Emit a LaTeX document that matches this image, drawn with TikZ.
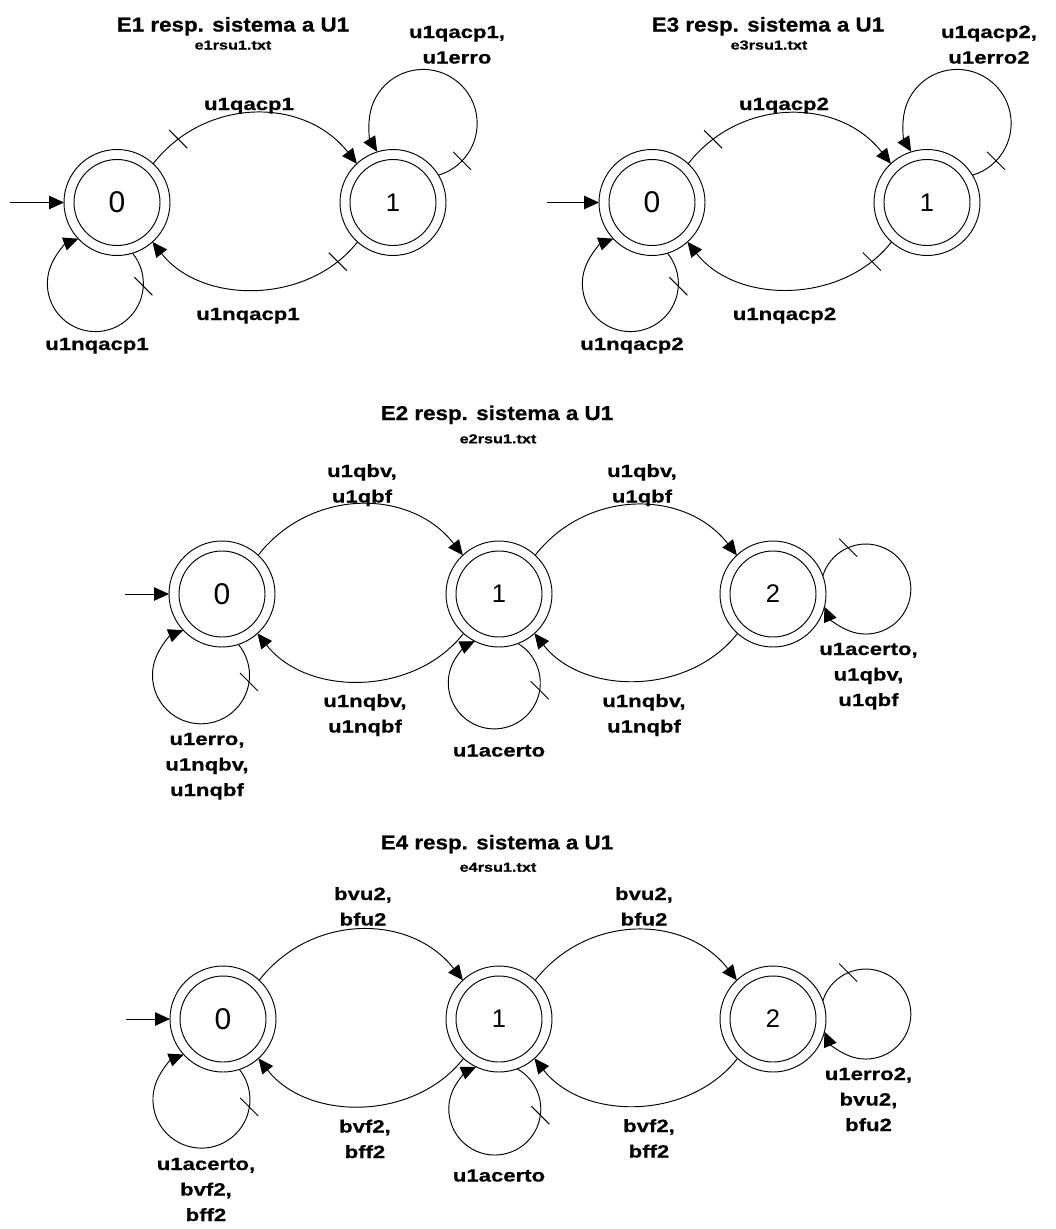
\documentclass[tikz,border=0pt]{standalone}
\usepackage{fontspec}
\setmainfont{Liberation Sans}
\newfontfamily\labfont{Liberation Sans}[FakeStretch=1.25,BoldFeatures={FakeBold=0.6}]
\newfontfamily\titfont{Liberation Sans}[FakeStretch=1.12,BoldFeatures={FakeBold=0.6}]
\usetikzlibrary{arrows.meta,decorations.markings}
\newcommand\ml[1]{\begin{tabular}[t]{@{}c@{}}#1\end{tabular}}
% #1 node, #2 direction to loop centre, #3 distance, #4 loop radius, #5 sense (1 / -1), #6 tick position
\newcommand\drawselfloop[6]{%
  \pgfmathsetmacro\lpa{acos((#3*#3+#4*#4-2809)/(2*#3*#4))}%
  \pgfmathsetmacro\lpb{acos((#3*#3+2809-#4*#4)/(2*#3*53))}%
  \pgfmathsetmacro\lpsa{#2+180-(#5)*\lpa}%
  \pgfmathsetmacro\lpea{#2+180+(#5)*\lpa-360*(#5)}%
  \pgfmathtruncatemacro\lpanc{round(#2+(#5)*\lpb)}%
  \draw[arr,tickmark=#6] (#1.\lpanc) arc[start angle=\lpsa, end angle=\lpea, radius=#4pt];%
}
\begin{document}
\begin{tikzpicture}[x=1pt,y=-1pt,line width=0.95pt,
  statez/.style={circle,draw,minimum size=106pt,inner sep=0pt,outer sep=0pt,
    font=\fontsize{30}{30}\selectfont,
    path picture={\draw[line width=0.95pt] (path picture bounding box.center) circle[radius=43pt];}},
  stateo/.style={statez,font=\fontsize{25.5}{25.5}\selectfont},
  arr/.style={-{Triangle[length=15pt,width=13.5pt]}},
  tickmark/.style={postaction={decorate,decoration={markings,
    mark=at position #1 with {\pgftransformresetnontranslations
      \draw[-,line width=0.95pt] (-9pt,9pt) -- (9pt,-9pt);}}}},
  lbl/.style={font=\labfont\bfseries\fontsize{17.7}{25.5}\selectfont,inner sep=0pt,anchor=base},
  ttl/.style={font=\titfont\bfseries\fontsize{20}{24}\selectfont,inner sep=0pt,anchor=base},
  subttl/.style={font=\labfont\bfseries\fontsize{13}{16}\selectfont,inner sep=0pt,anchor=base},
  topedge/.style={out=52,in=128,looseness=1.07},
  botedge/.style={out=-128,in=-52}
]
\useasboundingbox (0,0) rectangle (1056,1229);

% ---------------- E1 ----------------
\node[ttl] (t1) at (233,31.5) {E1 resp. sistema a U1};
\node[subttl] (s1) at (233,49.5) {e1rsu1.txt};
\node[statez] (e1a) at (117,202.5) {0};
\node[stateo] (e1b) at (393,202.5) {1};
\coordinate (e1i) at (10,202.5);
\draw[arr] (e1i) -- (e1a);
\draw[arr,tickmark=0.15] (e1a.47) to[topedge] (e1b.133);
\draw[arr,tickmark=0.12] (e1b.-132) to[botedge] (e1a.-48);
\drawselfloop{e1a}{-105}{84}{48}{1}{0.147}
\drawselfloop{e1b}{69}{84.5}{54}{-1}{0.104}
\node[lbl] (e1l1) at (249,110) {u1qacp1};
\node[lbl] (e1l2) at (248,320) {u1nqacp1};
\node[lbl] (e1l3) at (97,350) {u1nqacp1};
\node[lbl] (e1l4) at (457,38) {\ml{u1qacp1,\\u1erro}};

% ---------------- E3 ----------------
\node[ttl] (t3) at (768,31.5) {E3 resp. sistema a U1};
\node[subttl] (s3) at (769,49.5) {e3rsu1.txt};
\node[statez] (e3a) at (652,202.5) {0};
\node[stateo] (e3b) at (927,202.5) {1};
\coordinate (e3i) at (547,202.5);
\draw[arr] (e3i) -- (e3a);
\draw[arr,tickmark=0.15] (e3a.47) to[topedge] (e3b.133);
\draw[arr,tickmark=0.12] (e3b.-132) to[botedge] (e3a.-48);
\drawselfloop{e3a}{-105}{84}{48}{1}{0.147}
\drawselfloop{e3b}{69}{84.5}{54}{-1}{0.104}
\node[lbl] (e3l1) at (784,110) {u1qacp2};
\node[lbl] (e3l2) at (784.5,320) {u1nqacp2};
\node[lbl] (e3l3) at (632,350) {u1nqacp2};
\node[lbl] (e3l4) at (989,38) {\ml{u1qacp2,\\u1erro2}};

% ---------------- E2 ----------------
\node[ttl] (t2) at (497,420) {E2 resp. sistema a U1};
\node[subttl] (s2) at (498,443.3) {e2rsu1.txt};
\node[statez] (e2a) at (222,594) {0};
\node[stateo] (e2b) at (499,594) {1};
\node[stateo] (e2c) at (773,594) {2};
\coordinate (e2i) at (125,594);
\draw[arr] (e2i) -- (e2a);
\draw[arr] (e2a.47) to[topedge] (e2b.133);
\draw[arr] (e2b.47) to[topedge] (e2c.133);
\draw[arr] (e2c.-132) to[botedge] (e2b.-48);
\draw[arr] (e2b.-132) to[botedge] (e2a.-48);
\drawselfloop{e2a}{-104.5}{84}{48.5}{1}{0.165}
\drawselfloop{e2b}{-93}{89}{46}{1}{0.224}
\drawselfloop{e2c}{3}{93}{45}{1}{0.156}
\node[lbl] (e2l1) at (362,477) {\ml{u1qbv,\\u1qbf}};
\node[lbl] (e2l2) at (642,477) {\ml{u1qbv,\\u1qbf}};
\node[lbl] (e2l3) at (365,707) {\ml{u1nqbv,\\u1nqbf}};
\node[lbl] (e2l4) at (644,707) {\ml{u1nqbv,\\u1nqbf}};
\node[lbl] (e2l5) at (207,745) {\ml{u1erro,\\u1nqbv,\\u1nqbf}};
\node[lbl] (e2l6) at (499,756.5) {u1acerto};
\node[lbl] (e2l7) at (868.5,655) {\ml{u1acerto,\\u1qbv,\\u1qbf}};

% ---------------- E4 ----------------
\node[ttl] (t4) at (497,849.3) {E4 resp. sistema a U1};
\node[subttl] (s4) at (498,871.7) {e4rsu1.txt};
\node[statez] (e4a) at (223,1019) {0};
\node[stateo] (e4b) at (499,1019) {1};
\node[stateo] (e4c) at (773,1019) {2};
\coordinate (e4i) at (126,1019);
\draw[arr] (e4i) -- (e4a);
\draw[arr] (e4a.47) to[topedge] (e4b.133);
\draw[arr] (e4b.47) to[topedge] (e4c.133);
\draw[arr] (e4c.-132) to[botedge] (e4b.-48);
\draw[arr] (e4b.-132) to[botedge] (e4a.-48);
\drawselfloop{e4a}{-105}{83.5}{48.5}{1}{0.165}
\drawselfloop{e4b}{-92.5}{90}{46}{1}{0.224}
\drawselfloop{e4c}{3}{93}{45}{1}{0.156}
\node[lbl] (e4l1) at (363,900) {\ml{bvu2,\\bfu2}};
\node[lbl] (e4l2) at (644,900) {\ml{bvu2,\\bfu2}};
\node[lbl] (e4l3) at (365,1132.5) {\ml{bvf2,\\bff2}};
\node[lbl] (e4l4) at (649,1132) {\ml{bvf2,\\bff2}};
\node[lbl] (e4l5) at (206,1170) {\ml{u1acerto,\\bvf2,\\bff2}};
\node[lbl] (e4l6) at (499,1181.5) {u1acerto};
\node[lbl] (e4l7) at (868.5,1080) {\ml{u1erro2,\\bvu2,\\bfu2}};
\end{tikzpicture}
\end{document}
